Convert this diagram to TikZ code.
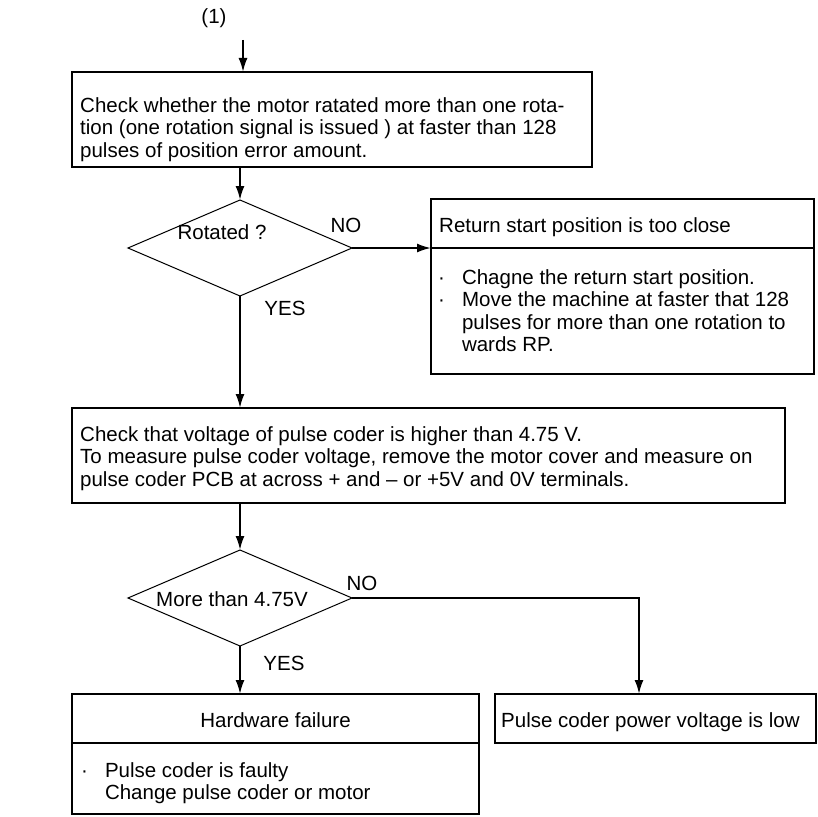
\documentclass[tikz,border=0pt]{standalone}
\usepackage{fontspec}
\setmainfont{Liberation Sans}
\usetikzlibrary{arrows.meta, shapes.geometric}
\tikzset{
    every node/.style={font=\fontsize{20.5bp}{22.5bp}\selectfont},
    box/.style={draw, line width=2bp, inner sep=0, outer sep=0, anchor=north west},
    decision/.style={diamond, draw, line width=1bp, inner sep=0, outer sep=0, minimum width=224bp, minimum height=96bp},
    txt/.style={inner sep=0, anchor=base west},
    flow/.style={line width=2bp, -{Latex[length=14bp, width=9bp]}},
    rule/.style={line width=2bp},
}

\begin{document}
\begin{tikzpicture}[x=1bp, y=1bp]
\useasboundingbox (0,0) rectangle (818,-817);
\node[txt, anchor=base] (one) at (214,-24) {(1)};
\coordinate (entry) at (243,-40);
\node[box, minimum width=520bp, minimum height=95bp] (check) at (72,-72) {};
\node[decision] (rot) at (240,-248) {};
\node[box, minimum width=383bp, minimum height=175bp] (close) at (431,-199) {};
\node[box, minimum width=713bp, minimum height=95bp] (volt) at (72,-408) {};
\node[decision] (more) at (240,-598) {};
\coordinate (corner) at (639,-598);
\node[box, minimum width=407bp, minimum height=120bp] (hw) at (72,-694) {};
\node[box, minimum width=321bp, minimum height=49bp] (low) at (495,-694) {};
\draw[rule] ([yshift=-49bp]close.north west) -- ([yshift=-49bp]close.north east);
\draw[rule] ([yshift=-49bp]hw.north west) -- ([yshift=-49bp]hw.north east);

\draw[flow] (entry) -- (entry |- check.north);
\draw[flow] (check.south -| rot.north) -- (rot.north);
\draw[flow] (rot.east) -- (rot.east -| close.west);
\draw[flow] (rot.south) -- (rot.south |- volt.north);
\draw[flow] (volt.south -| more.north) -- (more.north);
\draw[flow] (more.east) -- (corner) -- (corner |- low.north);
\draw[flow] (more.south) -- (more.south |- hw.north);

\node[txt] (checktxt) at (80,-112) {\begin{tabular}[t]{@{}l@{}}Check whether the motor ratated more than one rota-\\tion (one rotation signal is issued ) at faster than 128\\pulses of position error amount.\end{tabular}};
\node[txt, anchor=base] (rottxt) at (222,-239) {Rotated ?};
\node[txt, anchor=base] (no1) at (346,-232) {NO};
\node[txt, anchor=base] (yes1) at (285,-315) {YES};
\node[txt] (closehd) at (439,-232) {Return start position is too close};
\node[txt] (closetxt) at (438,-284) {\begin{tabular}[t]{@{}l@{\hspace{17bp}}l@{}}·&Chagne the return start position.\\·&Move the machine at faster that 128\\&pulses for more than one rotation to\\&wards RP.\end{tabular}};
\node[txt] (volttxt) at (80,-441) {\begin{tabular}[t]{@{}l@{}}Check that voltage of pulse coder is higher than 4.75 V.\\To measure pulse coder voltage, remove the motor cover and measure on\\pulse coder PCB at across + and – or +5V and 0V terminals.\end{tabular}};
\node[txt, anchor=base] (moretxt) at (232,-606) {More than 4.75V};
\node[txt, anchor=base] (no2) at (362,-590) {NO};
\node[txt, anchor=base] (yes2) at (284,-670) {YES};
\node[txt, anchor=base] (hwhd) at (275.5,-727) {Hardware failure};
\node[txt] (hwtxt) at (81,-777) {\begin{tabular}[t]{@{}l@{\hspace{17bp}}l@{}}·&Pulse coder is faulty\\&Change pulse coder or motor\end{tabular}};
\node[txt] (lowtxt) at (501,-727) {Pulse coder power voltage is low};
\end{tikzpicture}
\end{document}
